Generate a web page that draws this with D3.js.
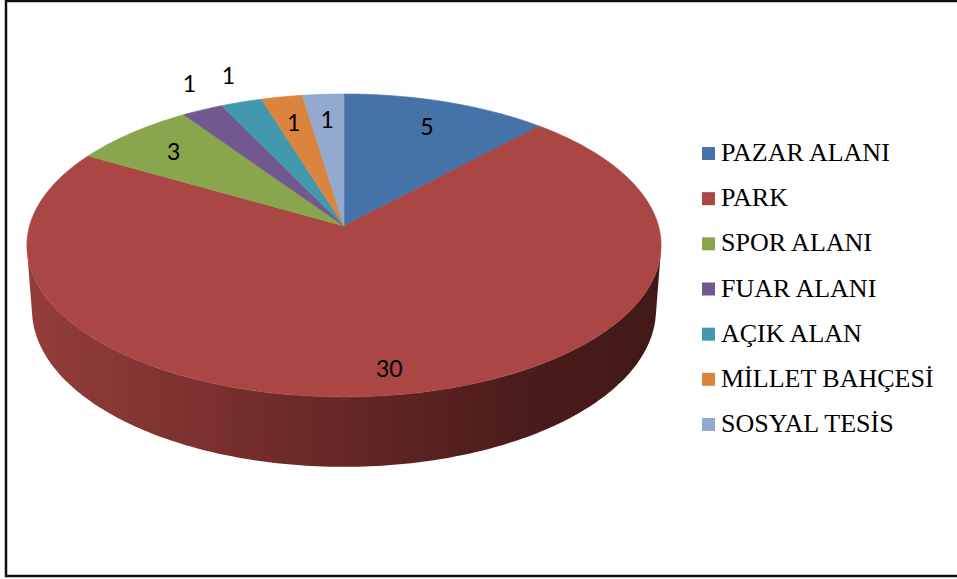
<!DOCTYPE html>
<html>
<head>
<meta charset="utf-8">
<script src="https://cdn.jsdelivr.net/npm/d3@7"></script>
<style>
  html, body { margin: 0; padding: 0; background: #fff; }
  svg { display: block; }
  .legend text { font-family: "Liberation Serif", "Times New Roman", Tinos, "DejaVu Serif", serif; }
</style>
</head>
<body>
<svg id="chart" width="957" height="579"></svg>
<script>
// Land-use categories and their counts
const categories = ["PAZAR ALANI", "PARK", "SPOR ALANI", "FUAR ALANI", "AÇIK ALAN", "MİLLET BAHÇESİ", "SOSYAL TESİS"];
const values = [5, 30, 3, 1, 1, 1, 1];
const colors = ["#4572A7", "#AA4643", "#89A54E", "#71588F", "#4198AF", "#DB843D", "#93A9CF"];
// Narrow neighbouring slices whose value labels sit above the rim
const outsideLabels = ["FUAR ALANI", "AÇIK ALAN"];

const svg = d3.select("#chart");

// Perspective camera for the tilted pie (unit distance to the pie centre)
const cam = { cx: 344, cy: 226, focal: 2160, sinT: 0.4737, cosT: 0.8807 };
const R = 0.1456;      // pie radius in world units
const H = 0.0341;      // pie thickness

// theta: clockwise from the far edge, f: fraction of radius, z: height (0 = top face)
function project(theta, f, z) {
  const X = R * f * Math.sin(theta);
  const Y = R * f * Math.cos(theta);
  const yc = Y * cam.sinT + z * cam.cosT;
  const zc = 1 + Y * cam.cosT - z * cam.sinT;
  return [cam.cx + cam.focal * X / zc, cam.cy - cam.focal * yc / zc];
}

const pie = d3.pie().sort(null).value(d => d.value).startAngle(0).endAngle(2 * Math.PI);
const arcs = pie(categories.map((c, i) => ({ name: c, value: values[i], color: colors[i] })));

const line = d3.line().curve(d3.curveLinearClosed);

function arcPoints(a0, a1, z, n) {
  const pts = [];
  for (let k = 0; k <= n; k++) pts.push(project(a0 + (a1 - a0) * k / n, 1, z));
  return pts;
}

// Side wall gradient: lit on the left, falling into shadow on the right
const defs = svg.append("defs");
const grad = defs.append("linearGradient")
  .attr("id", "sideShade").attr("gradientUnits", "userSpaceOnUse")
  .attr("x1", 25).attr("x2", 662).attr("y1", 0).attr("y2", 0);
[[0, "#943e3b"], [0.25, "#7d3230"], [0.5, "#662726"], [0.78, "#4a1c1b"], [1, "#421918"]]
  .forEach(([o, c]) => grad.append("stop").attr("offset", o).attr("stop-color", c));

// Outer wall visible between the two silhouette angles
const edge = Math.acos(-R / cam.cosT);
const visLo = edge, visHi = 2 * Math.PI - edge;

const sides = svg.append("g");
arcs.forEach(d => {
  const a0 = Math.max(d.startAngle, visLo), a1 = Math.min(d.endAngle, visHi);
  if (a1 <= a0) return;
  const n = Math.max(8, Math.ceil((a1 - a0) * 60));
  const top = arcPoints(a0, a1, 0, n);
  const bottom = arcPoints(a0, a1, -H, n).reverse();
  sides.append("path")
    .attr("d", line(top.concat(bottom)))
    .attr("fill", "url(#sideShade)");
});

// Top faces
const tops = svg.append("g");
arcs.forEach(d => {
  const n = Math.max(6, Math.ceil((d.endAngle - d.startAngle) * 60));
  const pts = [project(0, 0, 0)].concat(arcPoints(d.startAngle, d.endAngle, 0, n));
  tops.append("path")
    .attr("d", line(pts))
    .attr("fill", d.data.color)
    .attr("stroke", d.data.color)
    .attr("stroke-width", 0.6);
});

// Value labels
const labels = svg.append("g")
  .attr("font-family", "Lato, 'Open Sans', sans-serif")
  .attr("font-size", 23)
  .attr("fill", "#000")
  .attr("text-anchor", "middle")
  .attr("dominant-baseline", "central");
arcs.forEach(d => {
  const mid = (d.startAngle + d.endAngle) / 2;
  let p;
  if (outsideLabels.includes(d.data.name)) {
    const rim = project(mid, 1, 0);
    p = [rim[0] - 13, rim[1] - 27];
  } else {
    p = project(mid, d.value > 10 ? 0.86 : 0.79, 0);
  }
  labels.append("text").attr("x", p[0]).attr("y", p[1]).text(d.data.value);
});

// Legend
const legend = svg.append("g")
  .attr("class", "legend")
  .attr("font-size", 26)
  .attr("fill", "#000");
const ly = d3.scaleLinear().domain([0, categories.length - 1]).range([161, 432]);
categories.forEach((c, i) => {
  legend.append("rect")
    .attr("x", 702).attr("y", ly(i) - 14)
    .attr("width", 13).attr("height", 13)
    .attr("fill", colors[i]);
  legend.append("text").attr("x", 721).attr("y", ly(i)).text(c);
});

// Chart frame
svg.append("rect")
  .attr("x", 6).attr("y", 1)
  .attr("width", 960).attr("height", 575)
  .attr("fill", "none")
  .attr("stroke", "#111")
  .attr("stroke-width", 2.5);
</script>
</body>
</html>
